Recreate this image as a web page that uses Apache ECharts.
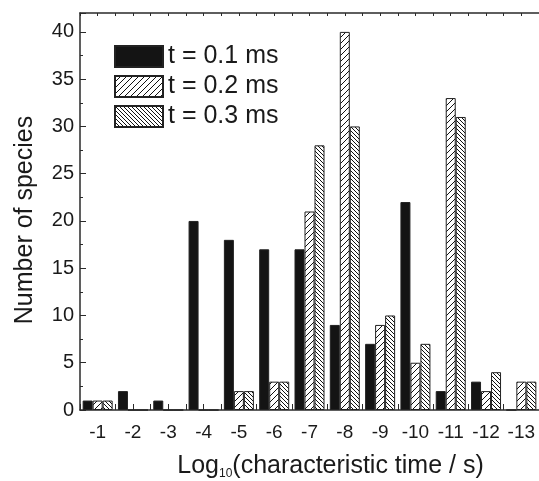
<!DOCTYPE html>
<html>
<head>
<meta charset="utf-8">
<script src="https://cdn.jsdelivr.net/npm/echarts@6/dist/echarts.min.js"></script>
<style>html,body{margin:0;padding:0;background:#fff}#c{width:539px;height:481px}</style>
</head>
<body>
<div id="c"></div>
<script>
const categories = ['-1','-2','-3','-4','-5','-6','-7','-8','-9','-10','-11','-12','-13'];
const seriesNames = ['t = 0.1 ms','t = 0.2 ms','t = 0.3 ms'];
const t01 = [1, 2, 1, 20, 18, 17, 17, 9, 7, 22, 2, 3, 0];
const t02 = [1, 0, 0, 0, 2, 3, 21, 40, 9, 5, 33, 2, 3];
const t03 = [1, 0, 0, 0, 2, 3, 28, 30, 10, 7, 31, 4, 3];
const yTicks = [0, 5, 10, 15, 20, 25, 30, 35, 40];

function hatch(size, forward) {
  const cv = document.createElement('canvas');
  cv.width = size; cv.height = size;
  const g = cv.getContext('2d');
  g.fillStyle = '#fff'; g.fillRect(0, 0, size, size);
  g.strokeStyle = '#111'; g.lineWidth = 1;
  g.beginPath();
  if (forward) {
    g.moveTo(-1, size + 1); g.lineTo(size + 1, -1);
    g.moveTo(-1, 1); g.lineTo(1, -1);
    g.moveTo(size - 1, size + 1); g.lineTo(size + 1, size - 1);
  } else {
    g.moveTo(-1, -1); g.lineTo(size + 1, size + 1);
    g.moveTo(size - 1, -1); g.lineTo(size + 1, 1);
    g.moveTo(-1, size - 1); g.lineTo(1, size + 1);
  }
  g.stroke();
  return cv;
}

const chart = echarts.init(document.getElementById('c'));
const font = 'Liberation Sans, Arial, sans-serif';
const txt = '#1a1a1a';
const axisCol = '#2a2a2a';

function barSeries(name, data, color) {
  return {
    name: name, type: 'bar', data: data, barWidth: 10, barGap: '0%',
    xAxisIndex: 0, yAxisIndex: 0,
    itemStyle: { color: color, borderColor: '#222', borderWidth: 1 },
    emphasis: { disabled: true }
  };
}

chart.setOption({
  animation: false,
  grid: { left: 80, top: 13, right: 0, bottom: 71, containLabel: false, outerBoundsMode: 'none' },
  legend: {
    orient: 'vertical', left: 109, top: 39, itemWidth: 48, itemHeight: 21, itemGap: 5,
    icon: 'rect',
    textStyle: { fontFamily: font, fontSize: 25, color: txt },
    data: seriesNames
  },
  xAxis: [
    {
      type: 'category', data: categories, position: 'bottom',
      axisLine: { show: true, lineStyle: { color: axisCol, width: 1.5 } },
      axisTick: { show: false },
      axisLabel: { fontFamily: font, fontSize: 19, color: txt, margin: 13, interval: 0, hideOverlap: false },
      name: '{a|Log}{s|10}{a|(characteristic time / s)}',
      nameLocation: 'middle', nameGap: 42,
      nameTextStyle: {
        padding: [0, 0, 0, 42],
        rich: {
          a: { fontFamily: font, fontSize: 25, color: txt },
          s: { fontFamily: font, fontSize: 12, color: txt, padding: [16, 0, 0, 0] }
        }
      }
    },
    {
      type: 'value', min: 0, max: 13, interval: 0.5, position: 'bottom',
      axisLine: { show: false },
      axisTick: { show: true, inside: true, length: 6, lineStyle: { color: axisCol, width: 1 } },
      axisLabel: { show: false }, splitLine: { show: false }
    },
    {
      type: 'value', min: 0, max: 13, interval: 0.5, position: 'top',
      axisLine: { show: true, lineStyle: { color: axisCol, width: 1.5 } },
      axisTick: { show: true, inside: true, length: 3, lineStyle: { color: axisCol, width: 1 } },
      axisLabel: { show: false }, splitLine: { show: false }
    }
  ],
  yAxis: [{
    type: 'value', min: 0, max: 42, interval: 5,
    axisLine: { show: true, lineStyle: { color: axisCol, width: 1.5 } },
    axisTick: { show: true, inside: true, length: 6, lineStyle: { color: axisCol } },
    minorTick: { show: true, splitNumber: 2, length: 3, lineStyle: { color: axisCol } },
    splitLine: { show: false },
    axisLabel: {
      fontFamily: font, fontSize: 20, color: txt, margin: 6,
      formatter: function (v) { return yTicks.indexOf(v) >= 0 ? String(v) : ''; }
    },
    name: 'Number of species', nameLocation: 'middle', nameGap: 42,
    nameTextStyle: { fontFamily: font, fontSize: 25, color: txt, padding: [0, 0, 0, -17] }
  }],
  series: [
    barSeries(seriesNames[0], t01, '#141414'),
    barSeries(seriesNames[1], t02, { image: hatch(6, true), repeat: 'repeat' }),
    barSeries(seriesNames[2], t03, { image: hatch(4, false), repeat: 'repeat' })
  ]
});
</script>
</body>
</html>
